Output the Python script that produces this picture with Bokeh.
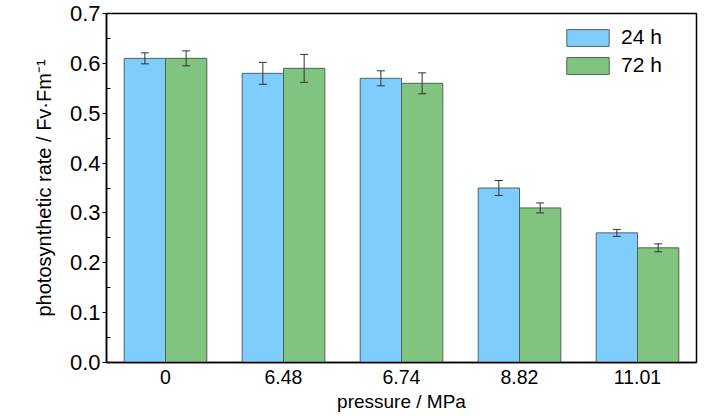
from bokeh.plotting import figure
from bokeh.models import (ColumnDataSource, FactorRange, Range1d, FixedTicker,
                          PrintfTickFormatter, Whisker, TeeHead, Legend, LegendItem)
from bokeh.transform import dodge
from bokeh.embed import file_html
from bokeh.resources import INLINE

categories = ["0", "6.48", "6.74", "8.82", "11.01"]
h24 = [0.61, 0.58, 0.57, 0.35, 0.26]
h72 = [0.61, 0.59, 0.56, 0.31, 0.23]
err24 = [0.011, 0.022, 0.015, 0.015, 0.007]
err72 = [0.015, 0.028, 0.021, 0.010, 0.008]
series_labels = ["24 h", "72 h"]
y_ticks = [0.0, 0.1, 0.2, 0.3, 0.4, 0.5, 0.6, 0.7]
y_minor = [0.05, 0.15, 0.25, 0.35, 0.45, 0.55, 0.65]

src = ColumnDataSource(dict(
    x=categories, h24=h24, h72=h72,
    u24=[v + e for v, e in zip(h24, err24)], l24=[v - e for v, e in zip(h24, err24)],
    u72=[v + e for v, e in zip(h72, err72)], l72=[v - e for v, e in zip(h72, err72)],
))

REG = "Liberation Sans"

p = figure(width=728, height=416, output_backend="svg", toolbar_location=None,
           x_range=FactorRange(*categories, range_padding=0),
           y_range=Range1d(0, 0.7),
           min_border_left=106, min_border_right=32, min_border_top=13, min_border_bottom=54)
p.margin = (0, 0, 0, 0)

BLUE = "#7ecdfc"
GREEN = "#80c47f"
W = 0.35
r1 = p.vbar(x=dodge("x", -W / 2, range=p.x_range), top="h24", width=W, source=src,
            fill_color=BLUE, line_color="#4d6470", line_width=1)
r2 = p.vbar(x=dodge("x", W / 2, range=p.x_range), top="h72", width=W, source=src,
            fill_color=GREEN, line_color="#4d6450", line_width=1)

for off, up, lo in [(-W / 2, "u24", "l24"), (W / 2, "u72", "l72")]:
    wk = Whisker(source=src, base=dodge("x", off, range=p.x_range), upper=up, lower=lo,
                 level="annotation",
                 line_color="#333333", line_width=1,
                 upper_head=TeeHead(size=8, line_color="#333333", line_width=1),
                 lower_head=TeeHead(size=8, line_color="#333333", line_width=1))
    p.add_layout(wk)

p.grid.visible = False
p.outline_line_color = "black"
p.outline_line_width = 1.5
p.outline_line_alpha = 1
p.background_fill_color = "white"
p.border_fill_color = "white"

# y axis
p.yaxis.ticker = FixedTicker(ticks=y_ticks, minor_ticks=y_minor)
p.yaxis.formatter = PrintfTickFormatter(format="%.1f")
p.yaxis.major_tick_out = 4
p.yaxis.major_tick_in = 0
p.yaxis.minor_tick_in = 4
p.yaxis.minor_tick_out = 0
p.yaxis.axis_line_width = 1.5
p.yaxis.major_tick_line_width = 1.2
p.yaxis.minor_tick_line_width = 1.2
p.yaxis.major_label_text_font = REG
p.yaxis.major_label_text_font_size = "22px"
p.yaxis.major_label_text_color = "black"
p.yaxis.major_label_standoff = 2
p.yaxis.axis_label = "photosynthetic rate / Fv\u00b7Fm\u207b\u00b9"
p.yaxis.axis_label_text_font = REG
p.yaxis.axis_label_text_font_style = "normal"
p.yaxis.axis_label_text_font_size = "20px"
p.yaxis.axis_label_text_color = "black"
p.yaxis.axis_label_standoff = 12

# x axis
p.xaxis.major_tick_out = 0
p.xaxis.major_tick_in = 0
p.xaxis.minor_tick_line_color = None
p.xaxis.axis_line_width = 1.5
p.xaxis.major_label_text_font = REG
p.xaxis.major_label_text_font_size = "19.5px"
p.xaxis.major_label_text_color = "black"
p.xaxis.major_label_standoff = 7
p.xaxis.axis_label = "pressure / MPa"
p.xaxis.axis_label_text_font = REG
p.xaxis.axis_label_text_font_style = "normal"
p.xaxis.axis_label_text_font_size = "19px"
p.xaxis.axis_label_text_color = "black"
p.xaxis.axis_label_standoff = 4

legend = Legend(items=[LegendItem(label=series_labels[0], renderers=[r1]),
                       LegendItem(label=series_labels[1], renderers=[r2])],
                location=(455, 285), padding=0, margin=0, spacing=4,
                glyph_width=53, glyph_height=21, label_height=21, label_standoff=7,
                label_text_font=REG, label_text_font_size="21px",
                label_text_color="black",
                border_line_color=None, background_fill_alpha=0)
p.add_layout(legend)

open("out.html", "w").write(file_html(p, INLINE))
